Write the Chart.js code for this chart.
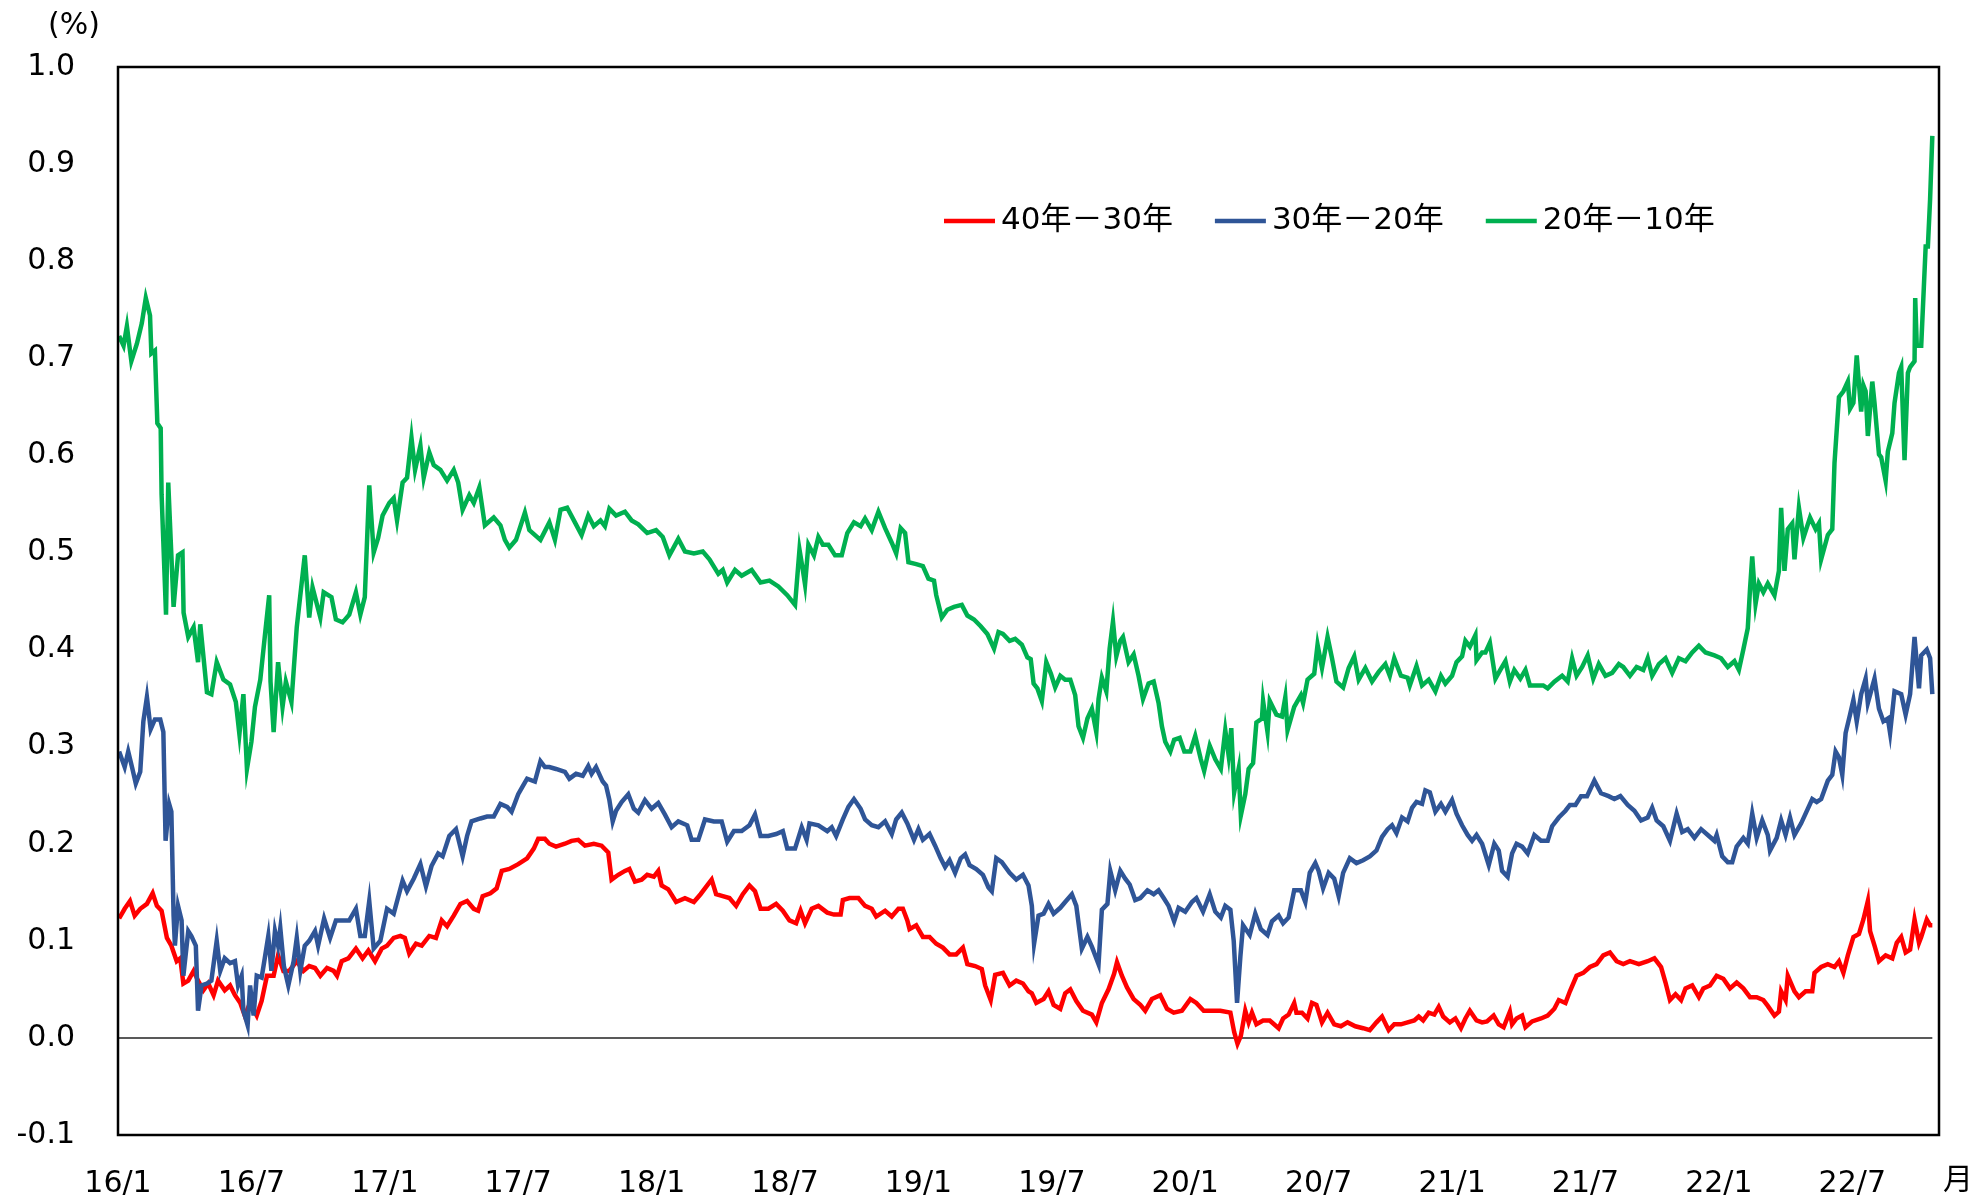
<!DOCTYPE html>
<html lang="ja">
<head>
<meta charset="utf-8">
<title>超長期金利スプレッド</title>
<script src="https://cdn.jsdelivr.net/npm/chart.js@4.4.1/dist/chart.umd.min.js"></script>
<style>
  html, body { margin: 0; padding: 0; background: #fff; }
  #wrap { width: 1987px; height: 1202px; }
</style>
</head>
<body>
<div id="wrap"><canvas id="spreadChart" width="1987" height="1202"></canvas></div>
<script>
// series names (legend)
const seriesLabels = ['40年－30年', '30年－20年', '20年－10年'];

// x axis: months since 2016/1, and the labels shown under the axis
const xTickMonths = [0, 6, 12, 18, 24, 30, 36, 42, 48, 54, 60, 66, 72, 78];
const xTickLabels = ['16/1', '16/7', '17/1', '17/7', '18/1', '18/7', '19/1', '19/7', '20/1', '20/7', '21/1', '21/7', '22/1', '22/7'];
const yTickValues = [-0.1, 0, 0.1, 0.2, 0.3, 0.4, 0.5, 0.6, 0.7, 0.8, 0.9, 1.0];

// 40年－30年
const redMonths = [0.05,0.3,0.54,0.75,1.0,1.3,1.56,1.75,1.96,2.2,2.4,2.64,2.8,2.94,3.16,3.4,3.6,3.84,4.06,4.3,4.5,4.8,5.04,5.26,5.5,5.7,5.94,6.24,6.46,6.7,7.0,7.2,7.44,7.7,8.04,8.34,8.6,8.86,9.1,9.4,9.7,9.85,10.06,10.36,10.7,11.0,11.26,11.56,11.86,12.1,12.4,12.7,12.9,13.1,13.4,13.66,14.0,14.3,14.56,14.8,15.1,15.4,15.7,16.0,16.2,16.4,16.75,17.03,17.26,17.6,18.0,18.4,18.7,18.9,19.2,19.4,19.7,20.1,20.4,20.7,21.0,21.4,21.75,22.05,22.2,22.5,22.8,23.0,23.25,23.55,23.8,24.1,24.3,24.45,24.75,25.1,25.5,25.9,26.2,26.5,26.7,26.9,27.2,27.5,27.8,28.1,28.4,28.65,28.9,29.25,29.6,29.9,30.2,30.5,30.7,30.9,31.2,31.5,31.9,32.2,32.5,32.6,32.9,33.3,33.6,33.9,34.1,34.5,34.8,35.1,35.3,35.5,35.6,35.9,36.2,36.5,36.8,37.1,37.4,37.7,38.0,38.2,38.55,38.85,39.0,39.25,39.45,39.8,40.1,40.4,40.7,40.95,41.1,41.3,41.63,41.85,42.08,42.38,42.6,42.83,43.1,43.4,43.8,44.0,44.25,44.55,44.8,44.93,45.15,45.38,45.68,45.98,46.2,46.5,46.88,47.18,47.48,47.85,48.23,48.5,48.83,49.2,49.58,50.03,50.2,50.35,50.5,50.7,50.85,51.0,51.2,51.5,51.8,52.2,52.4,52.65,52.9,53.0,53.25,53.5,53.7,53.9,54.15,54.4,54.7,55.0,55.3,55.65,56.0,56.3,56.6,56.85,57.15,57.4,57.7,58.0,58.3,58.5,58.7,58.95,59.2,59.4,59.6,59.9,60.15,60.4,60.6,60.8,61.1,61.35,61.57,61.87,62.1,62.32,62.6,62.7,62.9,63.15,63.3,63.6,64.0,64.3,64.6,64.8,65.1,65.3,65.6,65.9,66.2,66.5,66.8,67.1,67.4,67.7,68.0,68.4,68.8,69.1,69.4,69.6,69.8,70.05,70.3,70.5,70.8,71.1,71.3,71.6,71.9,72.2,72.5,72.8,73.1,73.4,73.7,74.0,74.2,74.5,74.7,74.8,75.0,75.1,75.4,75.6,75.9,76.2,76.3,76.6,76.9,77.2,77.4,77.6,77.8,78.05,78.3,78.5,78.7,78.8,79.0,79.2,79.5,79.8,80.0,80.2,80.4,80.6,80.8,81.0,81.1,81.35,81.5,81.6];
const redValues = [0.123,0.133,0.141,0.126,0.133,0.138,0.149,0.136,0.131,0.103,0.095,0.079,0.082,0.056,0.059,0.069,0.059,0.049,0.056,0.044,0.059,0.049,0.054,0.044,0.036,0.023,0.036,0.023,0.038,0.064,0.064,0.085,0.069,0.069,0.079,0.069,0.074,0.072,0.064,0.072,0.069,0.064,0.079,0.082,0.092,0.082,0.09,0.079,0.092,0.095,0.103,0.105,0.103,0.087,0.097,0.095,0.105,0.103,0.121,0.115,0.126,0.138,0.141,0.133,0.131,0.146,0.149,0.154,0.172,0.174,0.179,0.185,0.195,0.205,0.205,0.2,0.197,0.2,0.203,0.204,0.198,0.2,0.198,0.191,0.163,0.168,0.172,0.174,0.161,0.163,0.168,0.166,0.172,0.157,0.153,0.14,0.144,0.14,0.148,0.157,0.163,0.148,0.146,0.144,0.136,0.148,0.157,0.151,0.133,0.133,0.138,0.131,0.121,0.118,0.131,0.118,0.133,0.136,0.129,0.127,0.127,0.142,0.144,0.144,0.136,0.133,0.125,0.131,0.125,0.133,0.133,0.121,0.112,0.116,0.104,0.104,0.097,0.093,0.086,0.086,0.093,0.076,0.074,0.071,0.054,0.039,0.065,0.067,0.054,0.059,0.056,0.048,0.046,0.036,0.04,0.048,0.034,0.03,0.046,0.05,0.038,0.028,0.024,0.016,0.036,0.05,0.066,0.078,0.064,0.052,0.04,0.034,0.028,0.04,0.044,0.03,0.026,0.028,0.04,0.036,0.028,0.028,0.028,0.026,0.006,-0.006,0.002,0.028,0.016,0.026,0.014,0.018,0.018,0.01,0.02,0.024,0.036,0.026,0.026,0.02,0.036,0.034,0.016,0.026,0.014,0.012,0.016,0.012,0.01,0.008,0.016,0.022,0.008,0.014,0.014,0.016,0.018,0.022,0.018,0.026,0.024,0.032,0.022,0.016,0.02,0.01,0.02,0.028,0.018,0.016,0.017,0.023,0.014,0.011,0.027,0.014,0.02,0.023,0.011,0.017,0.02,0.023,0.03,0.039,0.036,0.048,0.064,0.067,0.073,0.076,0.085,0.088,0.079,0.076,0.079,0.076,0.079,0.082,0.073,0.057,0.039,0.045,0.039,0.051,0.054,0.042,0.051,0.054,0.064,0.061,0.051,0.057,0.051,0.042,0.042,0.039,0.033,0.023,0.027,0.048,0.039,0.064,0.048,0.042,0.048,0.048,0.067,0.073,0.076,0.073,0.079,0.067,0.085,0.104,0.107,0.122,0.141,0.11,0.095,0.079,0.085,0.082,0.098,0.104,0.088,0.091,0.122,0.098,0.104,0.122,0.116,0.116];

// 30年－20年
const blueMonths = [0.05,0.3,0.46,0.65,0.8,1.0,1.14,1.3,1.47,1.66,1.9,2.04,2.14,2.3,2.4,2.5,2.56,2.7,2.86,2.94,3.16,3.3,3.5,3.6,3.76,4.0,4.2,4.44,4.6,4.8,5.04,5.26,5.4,5.56,5.64,5.83,5.94,6.1,6.24,6.46,6.6,6.76,6.9,7.06,7.2,7.3,7.46,7.66,7.9,8.04,8.2,8.4,8.6,8.86,9.0,9.27,9.54,9.8,10.1,10.4,10.7,10.9,11.1,11.3,11.5,11.8,12.1,12.4,12.8,13.0,13.3,13.6,13.85,14.1,14.4,14.6,14.9,15.2,15.5,15.7,15.9,16.3,16.6,16.9,17.2,17.5,17.7,18.0,18.2,18.4,18.75,19.0,19.2,19.4,19.7,20.1,20.3,20.6,20.9,21.15,21.3,21.5,21.8,21.95,22.1,22.25,22.4,22.65,22.95,23.2,23.4,23.7,24.0,24.3,24.6,24.9,25.2,25.6,25.8,26.1,26.4,26.8,27.15,27.4,27.7,28.05,28.4,28.65,28.9,29.25,29.6,29.9,30.1,30.45,30.75,30.97,31.1,31.5,31.9,32.1,32.3,32.6,32.85,33.1,33.4,33.6,33.9,34.2,34.5,34.8,35.0,35.25,35.5,35.8,36.0,36.2,36.5,36.75,37.0,37.2,37.4,37.65,37.9,38.1,38.3,38.6,38.9,39.15,39.3,39.5,39.75,40.1,40.4,40.7,40.95,41.1,41.2,41.4,41.63,41.85,42.08,42.38,42.6,42.9,43.1,43.35,43.6,43.8,44.1,44.25,44.5,44.63,44.85,45.08,45.3,45.5,45.75,45.98,46.3,46.58,46.8,47.03,47.25,47.5,47.7,48.0,48.3,48.5,48.8,49.1,49.35,49.6,49.8,50.03,50.18,50.33,50.48,50.6,50.9,51.15,51.4,51.7,51.9,52.2,52.4,52.65,52.9,53.2,53.4,53.6,53.85,54.0,54.2,54.45,54.7,54.9,55.1,55.4,55.7,56.0,56.3,56.6,56.85,57.1,57.3,57.5,57.75,58.0,58.2,58.4,58.65,58.8,59.0,59.25,59.5,59.7,60.0,60.2,60.45,60.7,60.9,61.1,61.35,61.65,61.9,62.1,62.25,62.5,62.7,62.9,63.15,63.4,63.7,64.0,64.3,64.5,64.8,65.1,65.3,65.55,65.8,66.07,66.4,66.7,67.04,67.3,67.57,67.9,68.2,68.5,68.8,69.0,69.2,69.5,69.8,70.1,70.35,70.6,70.9,71.2,71.5,71.8,71.9,72.15,72.4,72.6,72.8,73.1,73.3,73.5,73.7,73.95,74.2,74.3,74.6,74.8,75.0,75.2,75.4,75.7,75.9,76.2,76.4,76.6,76.9,77.1,77.25,77.4,77.55,77.7,77.9,78.05,78.2,78.4,78.6,78.7,79.0,79.2,79.4,79.6,79.7,79.9,80.2,80.4,80.6,80.8,81.0,81.1,81.35,81.5,81.6];
const blueValues = [0.295,0.279,0.295,0.277,0.262,0.274,0.326,0.351,0.318,0.328,0.328,0.315,0.203,0.241,0.233,0.126,0.095,0.136,0.121,0.064,0.11,0.105,0.095,0.028,0.054,0.056,0.059,0.1,0.069,0.082,0.077,0.079,0.054,0.064,0.028,0.013,0.054,0.023,0.064,0.062,0.082,0.105,0.069,0.11,0.095,0.113,0.074,0.054,0.079,0.103,0.069,0.095,0.1,0.11,0.095,0.123,0.103,0.121,0.121,0.121,0.133,0.105,0.105,0.141,0.092,0.1,0.133,0.128,0.162,0.151,0.164,0.179,0.156,0.177,0.19,0.187,0.208,0.215,0.187,0.208,0.223,0.226,0.228,0.228,0.241,0.238,0.233,0.251,0.259,0.267,0.264,0.285,0.279,0.279,0.277,0.274,0.267,0.272,0.27,0.28,0.272,0.279,0.264,0.26,0.245,0.223,0.234,0.243,0.251,0.236,0.232,0.245,0.236,0.242,0.23,0.217,0.223,0.219,0.204,0.204,0.225,0.223,0.223,0.202,0.213,0.213,0.219,0.23,0.208,0.208,0.21,0.213,0.195,0.195,0.217,0.204,0.221,0.219,0.213,0.217,0.208,0.225,0.238,0.246,0.236,0.225,0.219,0.217,0.223,0.21,0.225,0.232,0.221,0.204,0.215,0.204,0.21,0.198,0.185,0.176,0.183,0.17,0.185,0.189,0.178,0.174,0.168,0.155,0.151,0.185,0.181,0.17,0.163,0.168,0.157,0.136,0.097,0.126,0.128,0.138,0.128,0.134,0.14,0.148,0.136,0.092,0.104,0.094,0.076,0.132,0.138,0.172,0.152,0.172,0.164,0.158,0.142,0.144,0.152,0.148,0.152,0.144,0.136,0.12,0.134,0.13,0.14,0.144,0.13,0.148,0.13,0.124,0.136,0.132,0.1,0.036,0.084,0.116,0.106,0.128,0.112,0.106,0.12,0.126,0.118,0.124,0.152,0.152,0.14,0.17,0.18,0.172,0.154,0.17,0.164,0.146,0.17,0.185,0.18,0.183,0.187,0.193,0.207,0.215,0.219,0.211,0.227,0.223,0.237,0.243,0.241,0.255,0.253,0.233,0.241,0.233,0.245,0.231,0.219,0.209,0.203,0.209,0.2,0.178,0.2,0.193,0.172,0.166,0.19,0.2,0.197,0.19,0.209,0.203,0.203,0.218,0.227,0.234,0.24,0.24,0.249,0.249,0.265,0.252,0.249,0.246,0.249,0.24,0.234,0.224,0.227,0.237,0.224,0.218,0.203,0.231,0.212,0.215,0.206,0.215,0.209,0.203,0.209,0.187,0.181,0.181,0.197,0.206,0.2,0.231,0.206,0.224,0.209,0.193,0.206,0.224,0.209,0.227,0.209,0.221,0.231,0.246,0.243,0.246,0.265,0.271,0.295,0.289,0.271,0.314,0.333,0.348,0.326,0.354,0.37,0.345,0.37,0.339,0.326,0.329,0.314,0.357,0.354,0.333,0.354,0.413,0.36,0.394,0.4,0.391,0.354];

// 20年－10年
const greenMonths = [0.05,0.25,0.4,0.6,0.85,1.07,1.25,1.44,1.5,1.66,1.77,1.92,1.96,2.04,2.16,2.26,2.37,2.5,2.7,2.9,2.95,3.16,3.4,3.6,3.7,4.0,4.2,4.44,4.74,5.04,5.3,5.46,5.64,5.8,6.0,6.16,6.4,6.6,6.8,6.86,7.0,7.2,7.4,7.55,7.8,8.04,8.4,8.6,8.75,9.1,9.25,9.6,9.8,10.1,10.4,10.7,10.9,11.1,11.3,11.5,11.7,11.9,12.2,12.4,12.55,12.8,13.0,13.2,13.36,13.6,13.75,14.0,14.2,14.5,14.8,15.1,15.3,15.5,15.8,16.0,16.25,16.5,16.9,17.2,17.4,17.6,17.9,18.3,18.5,19.0,19.4,19.65,19.9,20.2,20.55,20.85,21.15,21.4,21.7,21.9,22.1,22.4,22.8,23.1,23.4,23.8,24.2,24.5,24.8,25.2,25.5,25.9,26.3,26.6,27.0,27.2,27.4,27.75,28.05,28.5,28.9,29.3,29.7,30.1,30.45,30.65,30.8,30.9,31.05,31.3,31.5,31.7,31.95,32.25,32.55,32.8,33.1,33.4,33.6,33.9,34.2,34.5,34.8,35.0,35.2,35.4,35.55,35.9,36.2,36.45,36.7,36.8,37.05,37.3,37.6,37.95,38.2,38.5,38.8,39.1,39.4,39.6,39.8,40.1,40.35,40.65,40.9,41.05,41.18,41.35,41.55,41.75,41.96,42.15,42.38,42.6,42.83,43.05,43.2,43.4,43.6,43.8,44.0,44.1,44.25,44.45,44.6,44.75,44.9,45.08,45.2,45.45,45.68,45.9,46.1,46.35,46.58,46.8,46.95,47.1,47.33,47.5,47.75,47.96,48.23,48.45,48.7,48.85,49.1,49.35,49.6,49.8,49.95,50.07,50.2,50.4,50.5,50.7,50.85,51.05,51.2,51.45,51.5,51.7,51.8,52.1,52.35,52.5,52.6,52.9,53.2,53.3,53.5,53.8,53.95,54.15,54.4,54.6,54.8,55.1,55.35,55.6,55.8,56.1,56.4,56.7,57.0,57.2,57.4,57.7,58.0,58.1,58.4,58.65,58.95,59.25,59.5,59.7,60.0,60.2,60.45,60.6,60.8,61.05,61.1,61.35,61.5,61.7,61.95,62.17,62.4,62.6,62.8,63.07,63.3,63.5,63.8,64.1,64.3,64.6,64.95,65.2,65.4,65.6,65.85,66.1,66.35,66.6,66.9,67.2,67.5,67.7,68.0,68.3,68.6,68.8,69.0,69.3,69.6,69.9,70.2,70.5,70.8,71.1,71.4,71.8,72.1,72.4,72.7,72.9,73.1,73.3,73.4,73.5,73.65,73.8,74.0,74.2,74.5,74.7,74.8,74.95,75.1,75.3,75.4,75.6,75.8,76.1,76.35,76.5,76.6,76.9,77.1,77.2,77.4,77.6,77.8,77.9,78.05,78.2,78.4,78.5,78.6,78.7,78.9,79.0,79.2,79.3,79.5,79.6,79.8,79.9,80.1,80.2,80.35,80.5,80.6,80.8,80.83,80.9,81.1,81.3,81.4,81.5,81.6];
const greenValues = [0.723,0.713,0.733,0.697,0.715,0.736,0.762,0.744,0.705,0.708,0.633,0.628,0.56,0.51,0.436,0.572,0.513,0.444,0.497,0.5,0.438,0.413,0.423,0.387,0.426,0.356,0.354,0.387,0.369,0.364,0.346,0.313,0.354,0.277,0.305,0.341,0.369,0.413,0.456,0.367,0.315,0.387,0.341,0.367,0.346,0.423,0.497,0.433,0.464,0.433,0.459,0.454,0.431,0.428,0.436,0.459,0.436,0.454,0.569,0.5,0.515,0.538,0.551,0.556,0.533,0.572,0.577,0.618,0.585,0.61,0.577,0.603,0.59,0.585,0.574,0.585,0.572,0.544,0.559,0.551,0.567,0.528,0.536,0.528,0.513,0.505,0.513,0.541,0.523,0.513,0.531,0.513,0.544,0.546,0.531,0.518,0.538,0.527,0.533,0.527,0.545,0.538,0.542,0.533,0.529,0.52,0.523,0.516,0.497,0.514,0.501,0.499,0.501,0.493,0.478,0.482,0.469,0.482,0.476,0.482,0.469,0.471,0.465,0.456,0.446,0.503,0.482,0.467,0.508,0.497,0.516,0.508,0.508,0.497,0.497,0.52,0.531,0.527,0.535,0.523,0.542,0.525,0.51,0.499,0.525,0.52,0.49,0.488,0.486,0.473,0.471,0.456,0.433,0.441,0.444,0.446,0.435,0.431,0.424,0.416,0.401,0.418,0.416,0.409,0.411,0.405,0.392,0.39,0.365,0.36,0.347,0.387,0.375,0.361,0.373,0.369,0.369,0.353,0.321,0.309,0.329,0.339,0.315,0.349,0.371,0.357,0.401,0.429,0.393,0.409,0.413,0.387,0.395,0.373,0.349,0.365,0.367,0.345,0.321,0.305,0.295,0.307,0.309,0.295,0.295,0.311,0.287,0.275,0.301,0.287,0.277,0.317,0.291,0.319,0.253,0.277,0.229,0.251,0.277,0.283,0.325,0.329,0.347,0.315,0.347,0.333,0.331,0.351,0.317,0.341,0.353,0.345,0.369,0.375,0.405,0.381,0.413,0.391,0.367,0.361,0.381,0.393,0.369,0.381,0.367,0.377,0.385,0.373,0.391,0.373,0.371,0.363,0.383,0.363,0.369,0.357,0.373,0.365,0.373,0.387,0.393,0.409,0.403,0.415,0.389,0.397,0.397,0.407,0.37,0.379,0.388,0.367,0.379,0.37,0.379,0.363,0.363,0.363,0.36,0.367,0.373,0.367,0.391,0.373,0.382,0.394,0.37,0.385,0.373,0.376,0.385,0.382,0.373,0.382,0.379,0.391,0.373,0.385,0.391,0.376,0.391,0.388,0.397,0.404,0.397,0.394,0.391,0.382,0.388,0.379,0.4,0.422,0.462,0.496,0.447,0.468,0.459,0.468,0.456,0.481,0.546,0.481,0.524,0.53,0.493,0.546,0.515,0.536,0.524,0.53,0.493,0.518,0.524,0.592,0.66,0.666,0.676,0.648,0.654,0.703,0.645,0.672,0.666,0.62,0.676,0.654,0.601,0.598,0.574,0.604,0.623,0.654,0.685,0.691,0.595,0.685,0.691,0.697,0.762,0.713,0.713,0.815,0.815,0.864,0.929];

// zero reference line spans the data period
const zeroMonths = [0, 81.6];
const zeroValues = [0, 0];

const seriesColors = ['#FF0000', '#2F5597', '#00B050'];
const tickFont = { family: '"DejaVu Sans", "Noto Sans CJK JP", sans-serif', size: 30 };

function toPoints(months, values) {
  return months.map((m, i) => ({ x: m, y: values[i] }));
}

// frame, in-plot legend, unit labels
const decorations = {
  id: 'decorations',
  afterDatasetsDraw(chart) {
    const { ctx, chartArea: a } = chart;
    ctx.save();
    ctx.strokeStyle = '#000';
    ctx.lineWidth = 2.5;
    ctx.strokeRect(a.left, a.top, a.right - a.left, a.bottom - a.top);

    // legend
    ctx.font = '31px "DejaVu Sans", "Noto Sans CJK JP", sans-serif';
    ctx.textBaseline = 'middle';
    ctx.textAlign = 'left';
    let x = 944;
    const y = 221;
    seriesLabels.forEach((label, i) => {
      ctx.strokeStyle = seriesColors[i];
      ctx.lineWidth = 4.5;
      ctx.beginPath();
      ctx.moveTo(x, y);
      ctx.lineTo(x + 51, y);
      ctx.stroke();
      ctx.fillStyle = '#000';
      ctx.fillText(label, x + 57, y);
      x = x + 57 + ctx.measureText(label).width + 42;
    });

    ctx.font = '30px "DejaVu Sans", "Noto Sans CJK JP", sans-serif';
    ctx.textAlign = 'center';
    ctx.fillText('(%)', 74, 26);
    ctx.font = '30px "Noto Sans CJK JP", sans-serif';
    ctx.fillText('月', 1958, 1178);
    ctx.restore();
  }
};

function mainEvent() {
  const target = document.querySelector('#spreadChart');
  const lineStyle = { pointRadius: 0, borderWidth: 4.5, tension: 0, fill: false };

  new Chart(target, {
    type: 'line',
    data: {
      datasets: [
        { label: seriesLabels[0], data: toPoints(redMonths, redValues), borderColor: seriesColors[0], order: 3, ...lineStyle },
        { label: seriesLabels[1], data: toPoints(blueMonths, blueValues), borderColor: seriesColors[1], order: 2, ...lineStyle },
        { label: seriesLabels[2], data: toPoints(greenMonths, greenValues), borderColor: seriesColors[2], order: 1, ...lineStyle },
        { label: 'zero', data: toPoints(zeroMonths, zeroValues), borderColor: '#222', borderWidth: 1.5, pointRadius: 0, order: 4 }
      ]
    },
    options: {
      responsive: false,
      animation: false,
      layout: { padding: { top: 67, right: 48, left: 0, bottom: 0 } },
      plugins: { legend: { display: false }, tooltip: { enabled: false } },
      scales: {
        x: {
          type: 'linear',
          min: 0,
          max: 81.9,
          grid: { display: false },
          border: { display: false },
          afterBuildTicks: (scale) => { scale.ticks = xTickMonths.map((v) => ({ value: v })); },
          afterFit: (scale) => { scale.height = 67; },
          ticks: {
            autoSkip: false,
            maxRotation: 0,
            padding: 23,
            color: '#000',
            font: tickFont,
            callback: (value) => xTickLabels[xTickMonths.indexOf(value)]
          }
        },
        y: {
          min: -0.1,
          max: 1.0,
          grid: { display: false },
          border: { display: false },
          afterBuildTicks: (scale) => { scale.ticks = yTickValues.map((v) => ({ value: v })); },
          afterFit: (scale) => { scale.width = 118; },
          ticks: {
            padding: 35,
            color: '#000',
            font: tickFont,
            callback: (value) => Number(value).toFixed(1)
          }
        }
      }
    },
    plugins: [decorations]
  });
}

document.addEventListener('DOMContentLoaded', () => mainEvent());
</script>
</body>
</html>
